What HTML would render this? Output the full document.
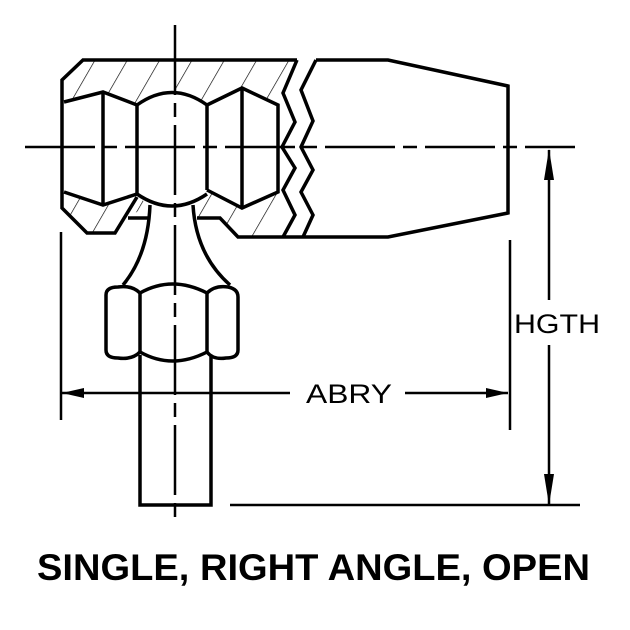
<!DOCTYPE html>
<html><head><meta charset="utf-8"><style>html,body{margin:0;padding:0;background:#fff}svg{display:block}</style></head>
<body>
<svg width="630" height="630" viewBox="0 0 630 630" xmlns="http://www.w3.org/2000/svg">
<defs>
<pattern id="h" patternUnits="userSpaceOnUse" width="28" height="28" patternTransform="rotate(30)">
<line x1="0" y1="0" x2="0" y2="28" stroke="#000" stroke-width="1.3"/>
</pattern>
</defs>
<g fill="url(#h)" stroke="none">
<polygon points="62,80 83,60 297,60 284,93 278,105 242,88 207,105 190,95 172,92 153,95 137,105 103,92 64,102"/>
<polygon points="64,192 103,205 137,194 147,205 128,218 115,233 87,233 62,208"/>
<polygon points="207,190 242,208 278,192 284,200 283,237 238,237 220,218 197,218 193,203"/>
</g>
<g fill="none" stroke="#000" stroke-width="3.5" stroke-linejoin="miter">
<!-- outer body -->
<polyline points="297,60 83,60 62,80 62,208 87,233 115,233 137,197"/>
<polyline points="128,218 150,218"/>
<polyline points="197,218 220,218 238,237 388,237 508,213 508,86 388,60 316,60"/>
<!-- left hex -->
<polyline points="64,102 103,92 137,105"/>
<polyline points="64,192 103,205 137,194"/>
<line x1="103" y1="92" x2="103" y2="205"/>
<line x1="137" y1="105" x2="137" y2="194"/>
<!-- ball -->
<path d="M137,105 Q172,80 207,105"/>
<path d="M137,194 Q172,218 207,194"/>
<line x1="207" y1="105" x2="207" y2="190"/>
<!-- right hex -->
<polyline points="207,105 242,88 278,105 278,192 242,208 207,190"/>
<line x1="242" y1="88" x2="242" y2="208"/>
<!-- zigzags -->
<polyline points="297,60 283,93 295,122 282,147 295,168 283,190 295,215 283,237"/>
<polyline points="316,60 301,90 313,121 301,147 313,170 301,192 313,215 303,237"/>
<!-- neck -->
<path d="M150,205 Q148,255 123,285"/>
<path d="M193,205 Q196,255 230,285"/>
<!-- nut -->
<path d="M106,295 Q106,287 118,287 Q132,285 140,293 Q172,275 207,293 Q215,285 228,287 Q238,289 238,297 L238,350 Q238,358 226,358 Q213,360 207,352 Q172,370 140,352 Q132,360 118,358 Q106,358 106,350 Z"/>
<line x1="140" y1="293" x2="140" y2="352"/>
<line x1="207" y1="293" x2="207" y2="352"/>
<!-- shank -->
<polyline points="140,355 140,505 211,505 211,355"/>
</g>
<g stroke="#000" stroke-width="2.5" fill="none">
<!-- centerlines -->
<line x1="175" y1="25" x2="175" y2="520" stroke-dasharray="70,8,14,8"/>
<line x1="25" y1="147" x2="575" y2="147" stroke-dasharray="70,8,14,8"/>
<!-- extension lines -->
<line x1="61" y1="232" x2="61" y2="420"/>
<line x1="510" y1="240" x2="510" y2="430"/>
<line x1="230" y1="505" x2="580" y2="505"/>
<!-- ABRY dim -->
<line x1="62" y1="393" x2="290" y2="393"/>
<line x1="405" y1="393" x2="508" y2="393"/>
<!-- HGTH dim -->
<line x1="549" y1="150" x2="549" y2="300"/>
<line x1="549" y1="345" x2="549" y2="505"/>
</g>
<g fill="#000">
<polygon points="62,393 84,388 84,398"/>
<polygon points="508,393 486,388 486,398"/>
<polygon points="549,149 544,180 554,180"/>
<polygon points="549,505 544,474 554,474"/>
</g>
<g font-family="Liberation Sans, sans-serif" fill="#000">
<text x="306" y="403" font-size="27" textLength="86" lengthAdjust="spacingAndGlyphs">ABRY</text>
<text x="514" y="333" font-size="27" textLength="86" lengthAdjust="spacingAndGlyphs">HGTH</text>
<text x="37" y="580" font-size="37" font-weight="bold" textLength="553" lengthAdjust="spacingAndGlyphs">SINGLE, RIGHT ANGLE, OPEN</text>
</g>
</svg>
</body></html>
